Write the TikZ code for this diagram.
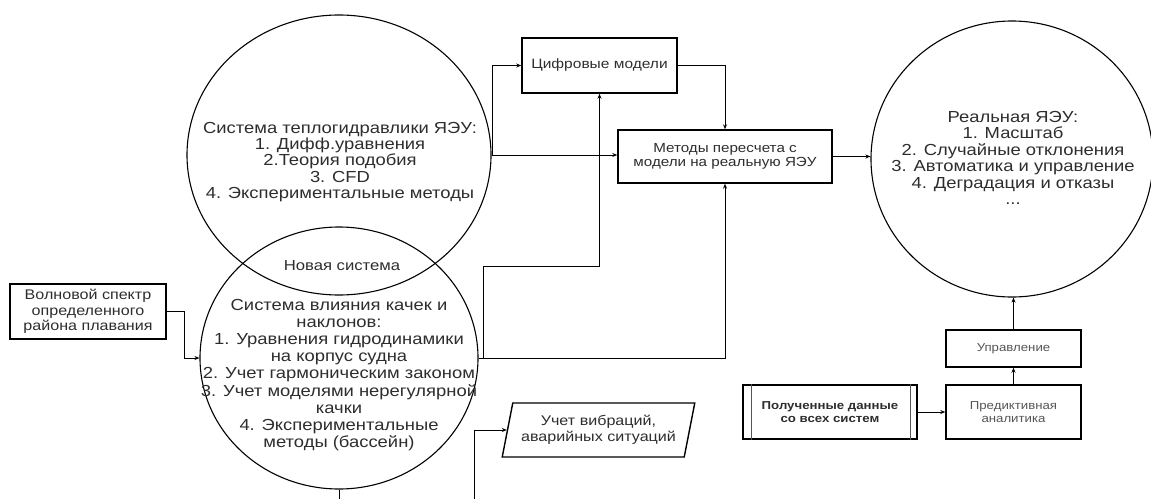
\documentclass[tikz,border=0pt]{standalone}
\usepackage{fontspec}
\setmainfont[FakeStretch=1.15]{Liberation Sans}
\usetikzlibrary{shapes.geometric,arrows.meta}
\definecolor{ink}{RGB}{45,45,45}
\definecolor{softink}{RGB}{85,85,85}
\begin{document}
\begin{tikzpicture}[x=1pt,y=-1pt,
  txt/.style={align=center,text=ink,inner sep=0pt},
  box/.style={draw,line width=1.4pt,inner sep=0pt,align=center,text=ink},
  ring/.style={ellipse,draw,line width=1.1pt,inner sep=0pt},
  con/.style={line width=0.9pt},
  arr/.style={line width=0.9pt,-{Stealth[length=5pt,width=4pt]}}]
\useasboundingbox (0,0) rectangle (1151,498);
\clip (0,0) rectangle (1151,498);

% the two overlapping systems
\node[ring,minimum width=304,minimum height=280] (heat) at (339,155) {};
\node[ring,minimum width=278,minimum height=262] (roll) at (339,358) {};
\node[txt,font=\fontsize{16}{16.2}\selectfont] (heattext) at (340,162)
  {Система теплогидравлики ЯЭУ:\\1. Дифф.уравнения\\2.Теория подобия\\3. CFD\\4. Экспериментальные методы};
\node[txt,font=\fontsize{14.5}{15}\selectfont] (newsys) at (342,266) {Новая система};
\node[txt,font=\fontsize{16}{17.2}\selectfont] (rolltext) at (339,375)
  {Система влияния качек и\\наклонов:\\1. Уравнения гидродинамики\\на корпус судна\\2. Учет гармоническим законом\\3. Учет моделями нерегулярной\\качки\\4. Экспериментальные\\методы (бассейн)};

% real plant
\node[ring,minimum width=282,minimum height=276] (real) at (1012,159) {};
\node[txt,font=\fontsize{16}{16.4}\selectfont] (realtext) at (1013,158)
  {Реальная ЯЭУ:\\1. Масштаб\\2. Случайные отклонения\\3. Автоматика и управление\\4. Деградация и отказы\\...};

% process boxes
\node[box,minimum width=156,minimum height=55,font=\fontsize{14}{15.5}\selectfont] (wave) at (88,311.5)
  {Волновой спектр\\определенного\\района плавания};
\node[box,minimum width=155,minimum height=55,font=\fontsize{13.5}{14}\selectfont] (digital) at (599.5,65.5)
  {Цифровые модели};
\node[box,minimum width=214,minimum height=53,font=\fontsize{13.2}{14.5}\selectfont] (methods) at (725,156.5)
  {Методы пересчета с\\модели на реальную ЯЭУ};
\node[trapezium,trapezium left angle=72,trapezium right angle=108,trapezium stretches=true,
  draw,line width=1.4pt,inner sep=0pt,align=center,text=ink,
  minimum width=193,minimum height=54,font=\fontsize{14}{16}\selectfont] (vib) at (598.5,430)
  {Учет вибраций,\\аварийных ситуаций};
\node[box,minimum width=135,minimum height=37,text=softink,font=\fontsize{11.5}{12.5}\selectfont] (ctrl) at (1013.5,348.5)
  {Управление};
\node[box,minimum width=135,minimum height=54,text=softink,font=\fontsize{11.5}{12.5}\selectfont] (pred) at (1013.5,412)
  {Предиктивная\\аналитика};
\node[box,minimum width=174,minimum height=54,font=\bfseries\fontsize{11.5}{13}\selectfont] (data) at (830,412)
  {Полученные данные\\со всех систем};
\draw[line width=0.8pt,softink] ([xshift=9pt]data.north west) -- ([xshift=9pt]data.south west);
\draw[line width=0.8pt,softink] ([xshift=-7pt]data.north east) -- ([xshift=-7pt]data.south east);

% junctions
\coordinate (j1) at (492,155);
\coordinate (j2) at (483,358);
\coordinate (j3) at (483,266);
\coordinate (b1) at (339,520);
\coordinate (b2) at (474,520);

% connectors
\draw[arr] (heat.east) -- (heat.east -| methods.west);
\draw[arr] (j1) |- (digital.west);
\draw[arr] (digital.east) -| (methods.north);
\draw[arr] (roll.east) -| (methods.south);
\draw[arr] (j2) -- (j3) -| (digital.south);
\draw[arr] (wave.east) -- ++(18,0) |- (roll.west);
\draw[arr] (roll.south) -- (b1) -- (b2) |- (vib.left side);
\draw[arr] (methods.east) -- (methods.east -| real.west);
\draw[arr] (data.east) -- (pred.west);
\draw[arr] (pred.north) -- (ctrl.south);
\draw[arr] (ctrl.north) -- (ctrl.north |- real.south);
\end{tikzpicture}
\end{document}
